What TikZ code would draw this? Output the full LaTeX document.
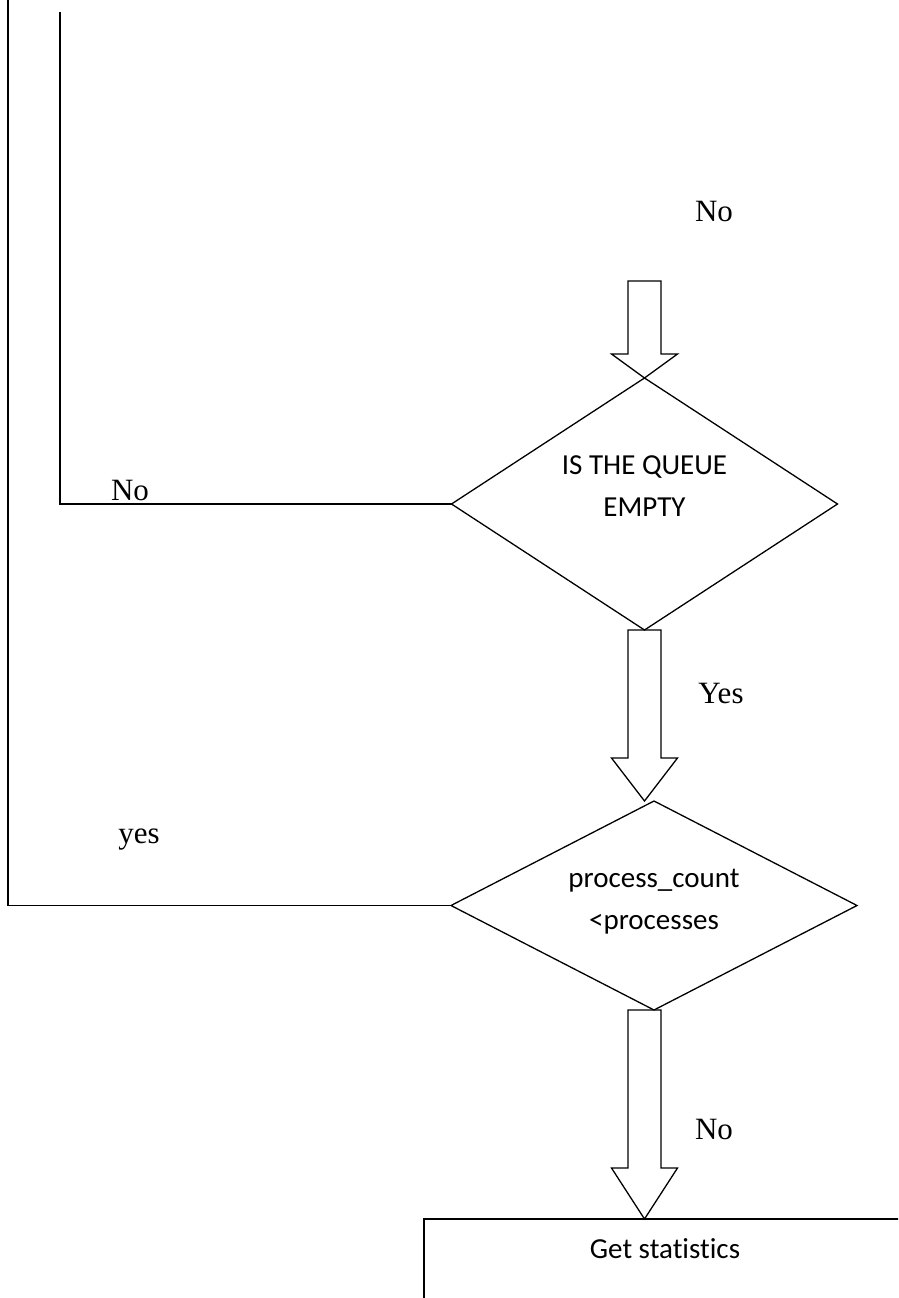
\documentclass[tikz,border=0pt]{standalone}
\usepackage{fontspec}
\setmainfont{Liberation Serif}
\newfontfamily\boxfont[Ligatures={NoCommon}]{Carlito}
\usetikzlibrary{shapes.geometric,calc}

% hollow block arrow: #1 = start of shaft, #2 = tip, #3 = head length
\newcommand\fatarrow[3]{%
  \draw ($(#1)+(-16.5,0)$) -- ($(#1)+(16.5,0)$) -- ($(#2)+(16.5,-#3)$)
        -- ($(#2)+(33,-#3)$) -- (#2) -- ($(#2)+(-33,-#3)$)
        -- ($(#2)+(-16.5,-#3)$) -- cycle;}

\begin{document}
\begin{tikzpicture}[x=1pt,y=-1pt,line width=1.3pt,line join=miter,
  decision/.style={draw,diamond,inner sep=0pt,outer sep=0pt},
  procbox/.style={draw,rectangle,inner sep=0pt,outer sep=0pt,anchor=north west},
  dtext/.style={font=\boxfont\fontsize{29}{42}\selectfont,align=center,inner sep=0pt},
  lbl/.style={font=\fontsize{31}{37}\selectfont,inner sep=0pt,anchor=base}]

\useasboundingbox (0,0) rectangle (898,1298);
\clip (0,0) rectangle (898,1298);

% decisions and the final process box
\node (q1) [decision,minimum width=386pt,minimum height=252pt] at (644.5,504) {};
\node (q2) [decision,minimum width=406pt,minimum height=209pt] at (654,905.5) {};
\node (stats) [procbox,minimum width=520pt,minimum height=120pt] at (424,1219) {};

\node (q1text) [dtext] at ($(q1.center)+(0,-18)$) {IS THE QUEUE\\EMPTY};
\node (q2text) [dtext] at ($(q2.center)+(0,-4)$) {process\_count\\<processes};
\node (statstext) [dtext,anchor=base] at ($(stats.north west)+(241,39)$) {Get statistics};

% branch labels
\node (noTop)  [lbl] at (714,221)  {No};
\node (noLeft) [lbl] at (130,500)  {No};
\node (yesQ)   [lbl] at (721,703)  {Yes};
\node (yesP)   [lbl] at (139,843)  {yes};
\node (noP)    [lbl] at (714,1139) {No};

% loop-back lines on the left
\coordinate (outerTop) at (8,-2);
\coordinate (innerTop) at (60,12);
\draw (q2.west) -- (q2.west -| outerTop) -- (outerTop);
\draw (q1.west) -- (q1.west -| innerTop) -- (innerTop);
\draw[line width=2.2pt] (q1.west -| innerTop) -- ++(0,-207);

% block arrows down the main flow
\coordinate (a1) at (644.5,281);
\fatarrow{a1}{a1 |- q1.north}{24}
\fatarrow{q1.south}{q1.south |- q2.north}{43}
\fatarrow{q1.south |- q2.south}{q1.south |- stats.north}{51}

\end{tikzpicture}
\end{document}
